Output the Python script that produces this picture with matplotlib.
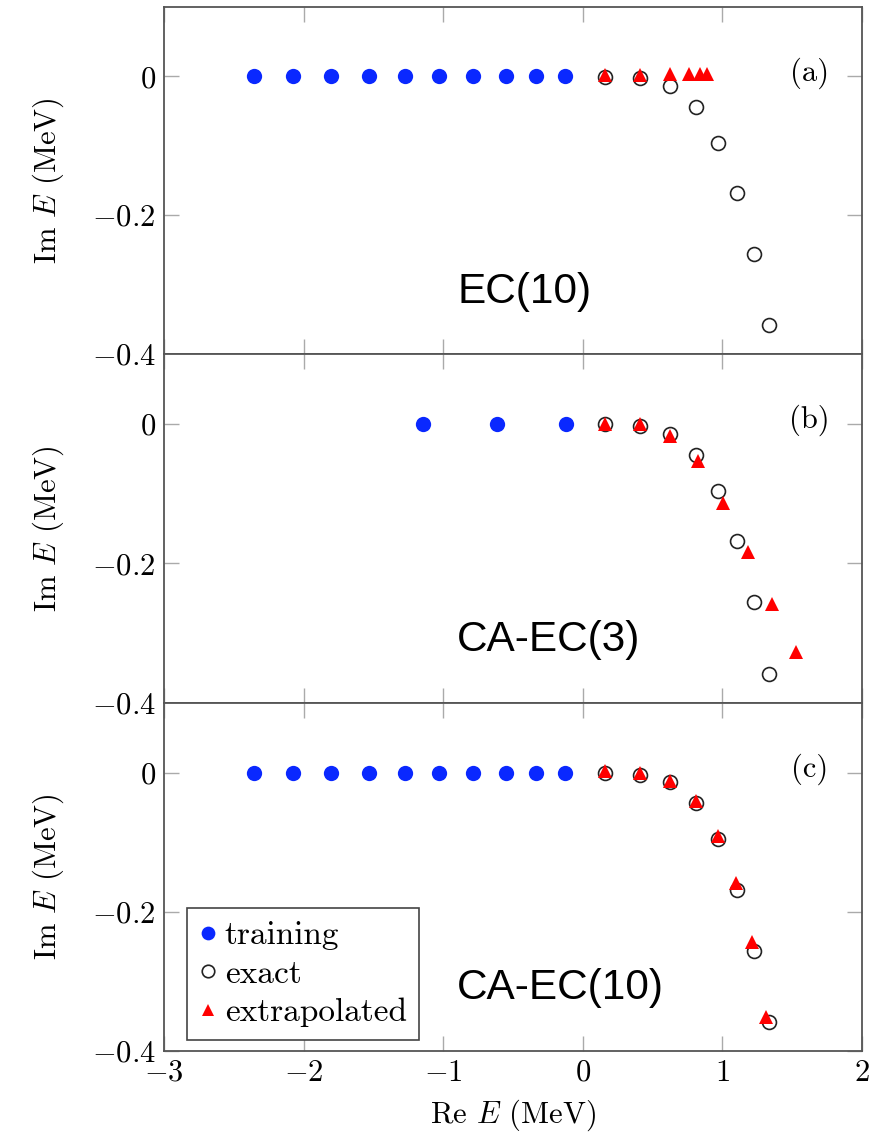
import matplotlib
matplotlib.use("Agg")
import matplotlib.pyplot as plt

plt.rcParams['font.family'] = 'serif'
plt.rcParams['font.serif'] = ['cmr10']
plt.rcParams['mathtext.fontset'] = 'cm'
plt.rcParams['axes.formatter.use_mathtext'] = True
plt.rcParams['axes.unicode_minus'] = True

# ---- data ----
train_re_a = [-2.357, -2.077, -1.805, -1.533, -1.275, -1.032, -0.788, -0.552, -0.337, -0.129]
train_im_a = [0, 0, 0, 0, 0, 0, 0, 0, 0, 0]
train_re_b = [-1.146, -0.616, -0.122]
train_im_b = [0, 0, 0]
train_re_c = train_re_a
train_im_c = train_im_a

exact_re = [0.158, 0.408, 0.623, 0.809, 0.969, 1.105, 1.225, 1.332]
exact_im = [-0.001, -0.003, -0.014, -0.044, -0.096, -0.168, -0.256, -0.358]

extra_re_a = [0.158, 0.408, 0.623, 0.759, 0.838, 0.888]
extra_im_a = [0.002, 0.002, 0.003, 0.003, 0.003, 0.003]
extra_re_b = [0.158, 0.408, 0.628, 0.822, 1.005, 1.180, 1.356, 1.526]
extra_im_b = [0.000, -0.001, -0.018, -0.054, -0.113, -0.183, -0.258, -0.327]
extra_re_c = [0.158, 0.408, 0.623, 0.809, 0.969, 1.100, 1.212, 1.315]
extra_im_c = [0.002, 0.000, -0.012, -0.041, -0.091, -0.159, -0.244, -0.351]

panel_tags = ['(a)', '(b)', '(c)']
method_names = ['EC(10)', 'CA-EC(3)', 'CA-EC(10)']
legend_labels = ['training', 'exact', 'extrapolated']

xticks = [-3, -2, -1, 0, 1, 2]
xtick_labels = [r'$-3$', r'$-2$', r'$-1$', r'$0$', r'$1$', r'$2$']
yticks = [-0.4, -0.2, 0]
ytick_labels = [r'$-0.4$', r'$-0.2$', r'$0$']

train_sets = [(train_re_a, train_im_a), (train_re_b, train_im_b), (train_re_c, train_im_c)]
extra_sets = [(extra_re_a, extra_im_a), (extra_re_b, extra_im_b), (extra_re_c, extra_im_c)]

BLUE = '#0a28ff'
RED = '#ff0000'

fig = plt.figure(figsize=(8.84, 11.41), dpi=100)
left = 164 / 884
width = (862 - 164) / 884
tops = [7, 354, 703]
bottoms = [354, 703, 1051]
axes = []
for i in range(3):
    b = 1 - bottoms[i] / 1141
    h = (bottoms[i] - tops[i]) / 1141
    ax = fig.add_axes([left, b, width, h])
    axes.append(ax)

for i, ax in enumerate(axes):
    tr, ti = train_sets[i]
    er, ei = extra_sets[i]
    h1, = ax.plot(tr, ti, 'o', color=BLUE, markersize=11, markeredgewidth=0, linestyle='none')
    h2, = ax.plot(exact_re, exact_im, 'o', markerfacecolor='none', markeredgecolor='#222222',
                  markersize=10, markeredgewidth=1.2, linestyle='none')
    h3, = ax.plot(er, ei, '^', color=RED, markersize=9.5, markeredgewidth=0, linestyle='none')
    ax.set_xlim(-3, 2)
    ax.set_ylim(-0.4, 0.1)
    ax.set_xticks(xticks)
    ax.set_yticks(yticks)
    ax.set_yticklabels(ytick_labels)
    if i == 2:
        ax.set_xticklabels(xtick_labels)
        ax.set_xlabel(r'Re $E$ (MeV)', fontsize=22, labelpad=8)
    else:
        ax.set_xticklabels([])
    ax.tick_params(axis='both', direction='in', length=11, width=1, color='#aaaaaa',
                   top=True, right=True, labelsize=22, pad=6)
    for sp in ax.spines.values():
        sp.set_color('#555555')
        sp.set_linewidth(1.3)
    ax.set_ylabel(r'Im $E$ (MeV)', fontsize=22)
    ax.yaxis.set_label_coords(-0.14, 0.5)
    ax.text(1.626, 0.005, panel_tags[i], fontsize=22, ha='center', va='center')
    ax.text(-0.9, -0.31, method_names[i], fontsize=30.5, ha='left', va='center',
            family=['Liberation Sans', 'DejaVu Sans'])
    if i == 2:
        leg = ax.legend([h1, h2, h3], legend_labels, loc='lower left',
                        bbox_to_anchor=(0.033, 0.032), borderaxespad=0, fontsize=24,
                        fancybox=False, framealpha=1, edgecolor='#444444',
                        handlelength=0.5, handletextpad=0.25, labelspacing=0.27,
                        borderpad=0.38, markerscale=0.9)
        leg.get_frame().set_linewidth(1.2)

fig.savefig('out.png', dpi=100)
